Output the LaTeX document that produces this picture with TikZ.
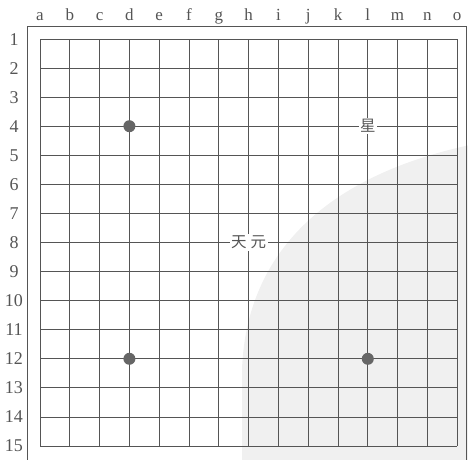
\documentclass[tikz,border=0pt]{standalone}
\usepackage{fontspec}
\setmainfont{Liberation Serif}
\newfontfamily\cjk{Noto Sans CJK SC}
\definecolor{boardline}{HTML}{555555}
\definecolor{stone}{HTML}{666666}
\definecolor{pageshade}{HTML}{F0F0F0}

\begin{document}
\begin{tikzpicture}[
x=1pt,y=-1pt,
every node/.style={
text=boardline,
inner sep=0pt
},
collabel/.style={anchor=base,font=\fontsize{17}{17}\selectfont},
rowlabel/.style={anchor=base,font=\fontsize{18}{18}\selectfont},
gridline/.style={draw=boardline,line width=0.8pt},
point/.style={circle,fill=stone,minimum size=12pt},
pointname/.style={fill=white,inner sep=1.5pt,font=\cjk\fontsize{15.5}{15.5}\selectfont}
]
\useasboundingbox (0,0) rectangle (468,459);

% faint shadow of the page
\fill[pageshade] (242,470) -- (242,370) .. controls (246,250) and (330,175) .. (470,145) -- (470,470) -- cycle;

% frame
\draw[boardline,line width=1pt] (27,26) rectangle (466,472);

% lines of the board
\foreach \i in {0,...,14}{
\draw[gridline] ({40+29.8*\i},39) -- ({40+29.8*\i},446);
\draw[gridline] (40,{39+29.07*\i}) -- (457,{39+29.07*\i});
}

% letters and numbers
\foreach \l [count=\i from 0] in {a,b,c,d,e,f,g,h,i,j,k,l,m,n,o}
\node[collabel] (col-\l) at ({40+29.8*\i},20) {\l};
\foreach \j [count=\i from 0] in {1,...,15}
\node[rowlabel] (row-\j) at (14,{39+29.07*\i+6}) {\j};

% star points
\node[point] (d4) at (129.4,126.2) {};
\node[point] (d12) at (129.4,358.8) {};
\node[point] (l12) at (367.8,358.8) {};

\node[pointname] (star) at (367.8,126.2)
{星};

\node[pointname] (tengen) at (248.6,242.5)
{天\hspace{4pt}元};

\end{tikzpicture}
\end{document}
